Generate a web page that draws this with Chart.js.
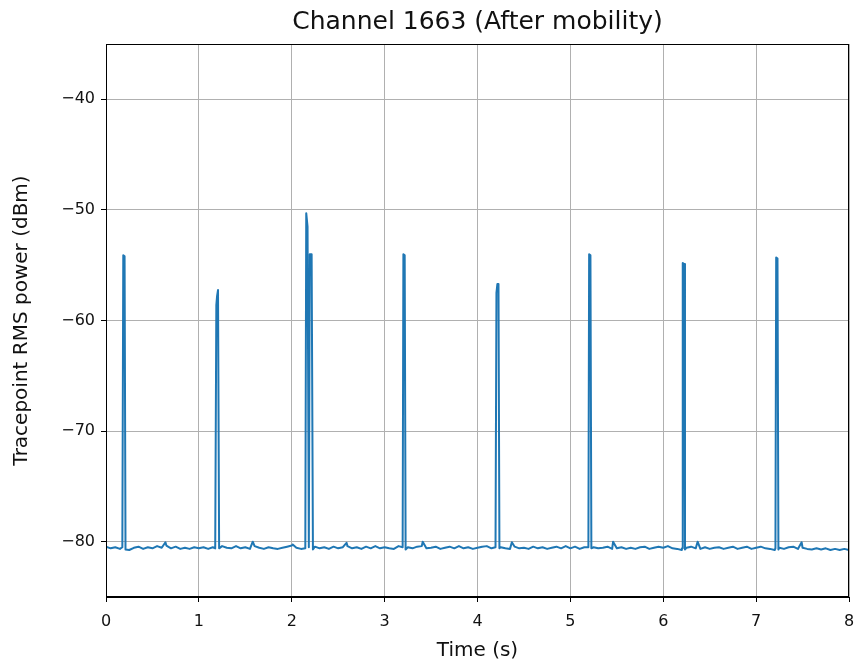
<!DOCTYPE html>
<html>
<head>
<meta charset="utf-8">
<script src="https://cdn.jsdelivr.net/npm/chart.js@4.4.1/dist/chart.umd.min.js"></script>
<style>
  html, body { margin: 0; padding: 0; background: #ffffff; }
  #wrap { width: 855px; height: 666px; }
</style>
</head>
<body>
<div id="wrap"><canvas id="c" width="855" height="666"></canvas></div>
<script>
// ---- Data ----
const titleText = 'Channel 1663 (After mobility)';
const xLabel = 'Time (s)';
const yLabel = 'Tracepoint RMS power (dBm)';
const xTicks = [0, 1, 2, 3, 4, 5, 6, 7, 8];
const yTicks = [-80, -70, -60, -50, -40];

// Baseline noise floor, sampled every 0.05 s from 0 to 8 s
const baseStep = 0.05;
const baseValues = [
  -80.45,-80.60,-80.50,-80.65,-80.55,-80.75,-80.55,-80.45,-80.65,-80.50,
  -80.60,-80.40,-80.55,-80.35,-80.60,-80.45,-80.65,-80.55,-80.65,-80.50,
  -80.60,-80.50,-80.65,-80.50,-80.70,-80.40,-80.55,-80.60,-80.40,-80.60,
  -80.50,-80.65,-80.40,-80.55,-80.65,-80.50,-80.60,-80.65,-80.55,-80.45,
  -80.35,-80.55,-80.65,-80.50,-80.75,-80.45,-80.60,-80.50,-80.65,-80.45,
  -80.60,-80.50,-80.40,-80.60,-80.50,-80.65,-80.45,-80.60,-80.40,-80.60,
  -80.50,-80.60,-80.65,-80.40,-80.70,-80.50,-80.60,-80.45,-80.40,-80.60,
  -80.55,-80.45,-80.65,-80.55,-80.45,-80.60,-80.40,-80.60,-80.50,-80.65,
  -80.55,-80.45,-80.40,-80.60,-80.70,-80.50,-80.60,-80.65,-80.45,-80.60,
  -80.55,-80.65,-80.45,-80.60,-80.50,-80.65,-80.55,-80.45,-80.60,-80.40,
  -80.60,-80.45,-80.65,-80.50,-80.75,-80.50,-80.60,-80.55,-80.45,-80.65,
  -80.60,-80.50,-80.65,-80.55,-80.65,-80.50,-80.45,-80.65,-80.55,-80.45,
  -80.55,-80.40,-80.60,-80.65,-80.75,-80.55,-80.45,-80.60,-80.65,-80.50,
  -80.65,-80.55,-80.50,-80.65,-80.55,-80.45,-80.65,-80.55,-80.45,-80.65,
  -80.55,-80.45,-80.60,-80.65,-80.75,-80.55,-80.65,-80.50,-80.45,-80.65,
  -80.55,-80.65,-80.70,-80.60,-80.70,-80.60,-80.75,-80.65,-80.75,-80.65,
  -80.75
];

// Small bumps on the noise floor
const bumpTimes  = [0.64, 1.58, 2.01, 2.59, 3.41, 4.37, 5.46, 6.37, 7.49];
const bumpValues = [-80.05, -80.00, -80.25, -80.10, -80.00, -80.05, -80.00, -80.00, -80.05];

// Pulses (each pulse: times and dBm values)
const pulseTimes = [
  [0.176, 0.186, 0.200, 0.210],
  [1.176, 1.188, 1.196, 1.206, 1.218],
  [2.146, 2.156, 2.170, 2.184, 2.194, 2.214, 2.228],
  [3.194, 3.202, 3.216, 3.226],
  [4.194, 4.204, 4.214, 4.226, 4.236],
  [5.194, 5.202, 5.216, 5.226],
  [6.202, 6.210, 6.224, 6.234],
  [7.208, 7.216, 7.230, 7.240]
];
const pulseValues = [
  [-80.5, -54.1, -54.2, -80.7],
  [-80.6, -58.6, -57.8, -57.25, -80.6],
  [-80.6, -50.3, -51.5, -80.5, -54.0, -54.0, -80.7],
  [-80.5, -54.0, -54.1, -80.7],
  [-80.5, -57.5, -56.7, -56.7, -80.6],
  [-80.5, -54.0, -54.1, -80.6],
  [-80.6, -54.8, -54.9, -80.7],
  [-80.6, -54.3, -54.4, -80.7]
];

// ---- Build the series from the arrays ----
const pts = [];
baseValues.forEach((v, i) => {
  const t = +(i * baseStep).toFixed(3);
  const inPulse = pulseTimes.some(p => t >= p[0] && t <= p[p.length - 1]);
  if (!inPulse) pts.push({ x: t, y: v });
});
bumpTimes.forEach((t, i) => pts.push({ x: t, y: bumpValues[i] }));
pulseTimes.forEach((p, j) => p.forEach((t, k) => pts.push({ x: t, y: pulseValues[j][k] })));
pts.sort((a, b) => a.x - b.x);

const FONT = 'DejaVu Sans';
const TXT = '#111111';
const fmt = v => (v < 0 ? '\u2212' + Math.abs(v) : String(v));

// Centre the title over the plot area (like the reference)
const titleOverPlot = {
  id: 'titleOverPlot',
  afterLayout(chart) {
    const tb = chart.titleBlock, a = chart.chartArea;
    if (tb) { tb.left = a.left; tb.right = a.right; tb.width = a.right - a.left; }
  }
};

const frame = {
  id: 'frame',
  afterDraw(chart) {
    const a = chart.chartArea, ctx = chart.ctx;
    ctx.save();
    ctx.strokeStyle = '#000';
    ctx.lineWidth = 1;
    ctx.strokeRect(Math.round(a.left) + 0.5, Math.round(a.top) + 0.5,
                   Math.round(a.right - a.left) - 1, Math.round(a.bottom - a.top) - 1);
    ctx.restore();
  }
};

new Chart(document.getElementById('c'), {
  type: 'line',
  data: {
    datasets: [{
      data: pts,
      borderColor: '#1f77b4',
      borderWidth: 2,
      borderJoinStyle: 'round',
      borderCapStyle: 'round',
      pointRadius: 0,
      tension: 0,
      fill: false
    }]
  },
  options: {
    responsive: false,
    animation: false,
    events: [],
    layout: { padding: { left: 0, right: 6, top: 0, bottom: 0 } },
    plugins: {
      legend: { display: false },
      tooltip: { enabled: false },
      title: {
        display: true,
        text: titleText,
        color: TXT,
        font: { family: FONT, size: 25, weight: 'normal' },
        padding: { top: 7, bottom: 7 }
      }
    },
    scales: {
      x: {
        type: 'linear',
        min: 0, max: 8,
        afterBuildTicks: s => { s.ticks = xTicks.map(v => ({ value: v })); },
        afterFit: s => { s.height = 69; s.paddingLeft = 0; s.paddingRight = 0; },
        ticks: { color: TXT, font: { family: FONT, size: 16 }, padding: 10, maxRotation: 0,
                 callback: v => fmt(v) },
        grid: { color: '#b0b0b0', lineWidth: 1, tickColor: '#000', tickLength: 5 },
        border: { display: true, color: '#000', width: 1 },
        title: { display: true, text: xLabel, color: TXT,
                 font: { family: FONT, size: 20 }, padding: { top: 0, bottom: 3 } }
      },
      y: {
        type: 'linear',
        min: -85, max: -35,
        afterBuildTicks: s => { s.ticks = yTicks.map(v => ({ value: v })); },
        afterFit: s => { s.width = 106; s.paddingTop = 0; s.paddingBottom = 0; },
        ticks: { color: TXT, font: { family: FONT, size: 16 }, padding: 6,
                 callback: v => fmt(v) },
        grid: { color: '#b0b0b0', lineWidth: 1, tickColor: '#000', tickLength: 5 },
        border: { display: true, color: '#000', width: 1 },
        title: { display: true, text: yLabel, color: TXT,
                 font: { family: FONT, size: 20 }, padding: { top: 10, bottom: 0 } }
      }
    }
  },
  plugins: [titleOverPlot, frame]
});
</script>
</body>
</html>
